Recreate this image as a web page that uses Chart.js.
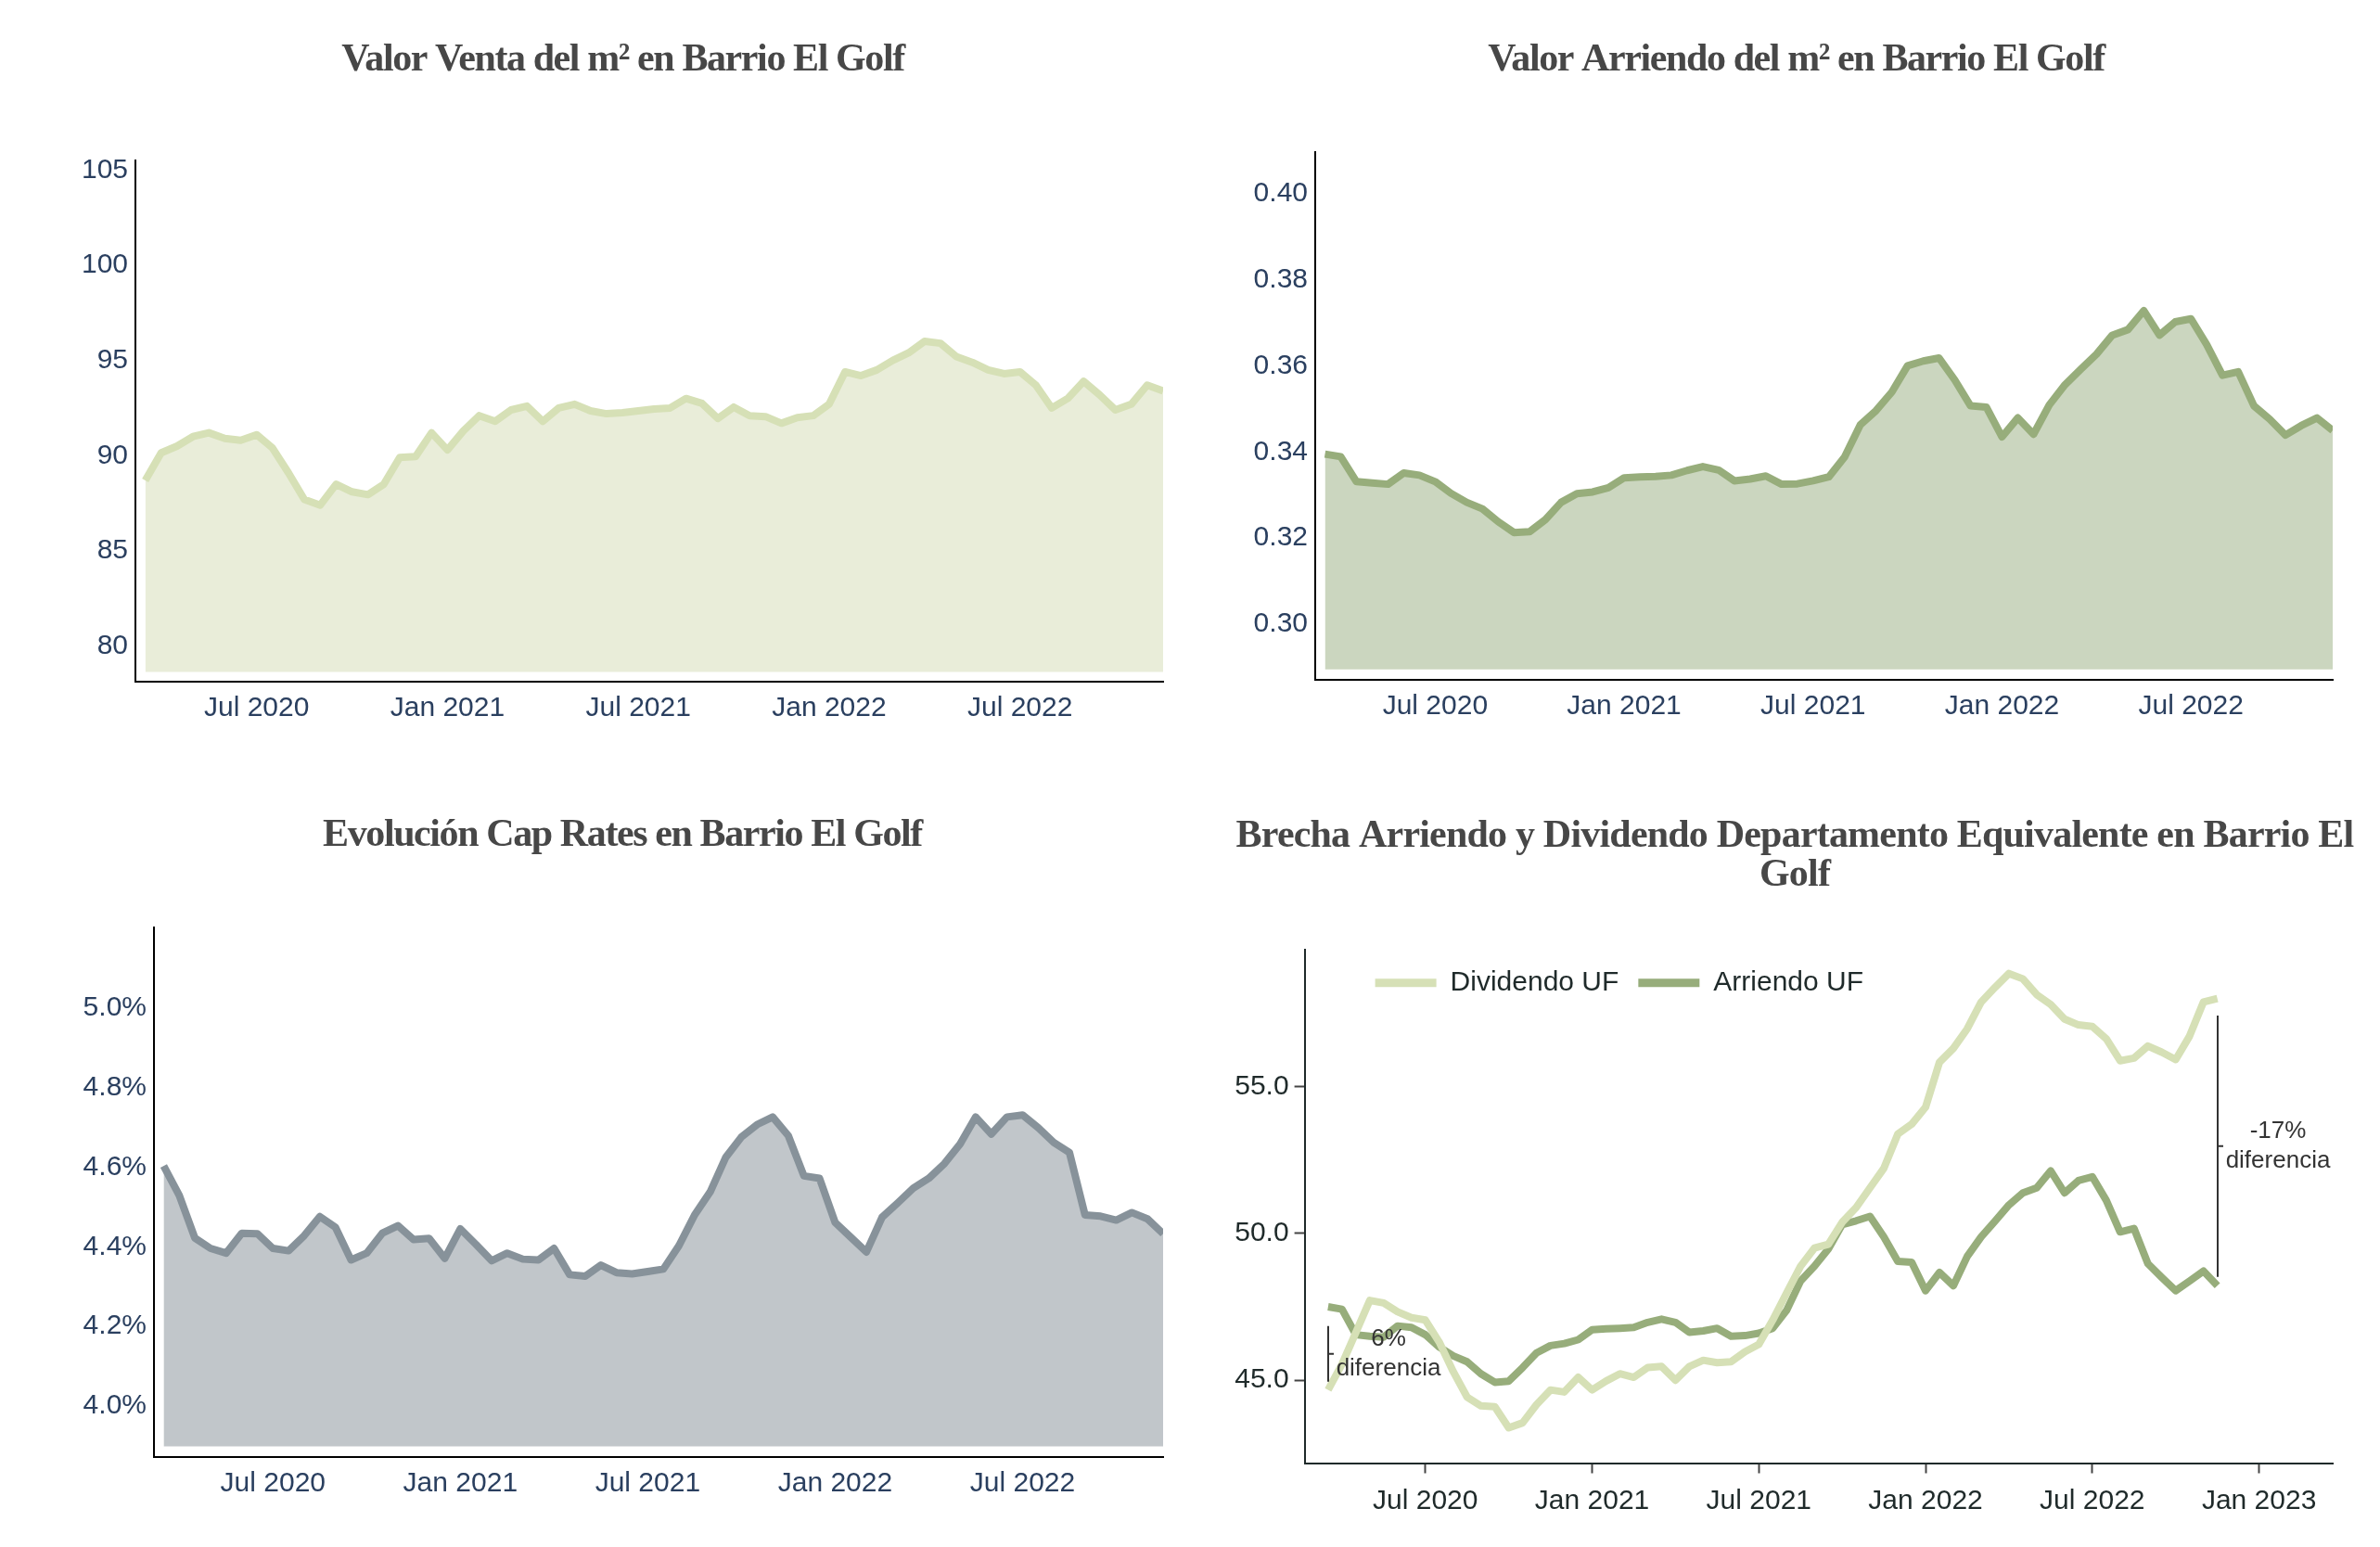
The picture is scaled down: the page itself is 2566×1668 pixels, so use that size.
<!DOCTYPE html>
<html lang="es">
<head>
<meta charset="utf-8">
<title>Barrio El Golf</title>
<script src="https://cdn.jsdelivr.net/npm/chart.js"></script>
<style>
  html, body { margin: 0; padding: 0; background: #fff; }
  #grid { position: relative; width: 2566px; height: 1668px; }
  #grid canvas { position: absolute; }
</style>
</head>
<body>
<div id="grid">
  <canvas id="venta" width="1283" height="834" style="left:0;top:0"></canvas>
  <canvas id="arriendo" width="1283" height="834" style="left:1283px;top:0"></canvas>
  <canvas id="cap" width="1283" height="834" style="left:0;top:834px"></canvas>
  <canvas id="brecha" width="1283" height="834" style="left:1283px;top:834px"></canvas>
</div>
<script>
// fechas quincenales
const fechas = [
  '2020-03-15', '2020-04-01', '2020-04-15', '2020-05-01', '2020-05-15', '2020-06-01', '2020-06-15',
  '2020-07-01', '2020-07-15', '2020-08-01', '2020-08-15', '2020-09-01', '2020-09-15', '2020-10-01',
  '2020-10-15', '2020-11-01', '2020-11-15', '2020-12-01', '2020-12-15',
  '2021-01-01', '2021-01-15', '2021-02-01', '2021-02-15', '2021-03-01', '2021-03-15', '2021-04-01',
  '2021-04-15', '2021-05-01', '2021-05-15', '2021-06-01', '2021-06-15', '2021-07-01', '2021-07-15',
  '2021-08-01', '2021-08-15', '2021-09-01', '2021-09-15', '2021-10-01', '2021-10-15', '2021-11-01',
  '2021-11-15', '2021-12-01', '2021-12-15',
  '2022-01-01', '2022-01-15', '2022-02-01', '2022-02-15', '2022-03-01', '2022-03-15', '2022-04-01',
  '2022-04-15', '2022-05-01', '2022-05-15', '2022-06-01', '2022-06-15', '2022-07-01', '2022-07-15',
  '2022-08-01', '2022-08-15', '2022-09-01', '2022-09-15', '2022-10-01', '2022-10-15', '2022-11-01',
  '2022-11-15'
];

const ventaM2 = [
  88.7, 90.15, 90.5, 91.0, 91.2, 90.9, 90.8, 91.1, 90.4, 89.1,
  87.7, 87.4, 88.5, 88.1, 87.95, 88.5, 89.9, 89.95, 91.2, 90.3,
  91.3, 92.1, 91.8, 92.4, 92.6, 91.8, 92.5, 92.7, 92.35, 92.2,
  92.25, 92.35, 92.45, 92.5, 93.0, 92.75, 91.95, 92.55, 92.1, 92.05,
  91.7, 92.0, 92.1, 92.7, 94.4, 94.2, 94.5, 95.0, 95.4, 96.0,
  95.9, 95.2, 94.9, 94.5, 94.3, 94.4, 93.7, 92.5, 93.0, 93.9,
  93.2, 92.4, 92.7, 93.7, 93.4
];

const arriendoM2 = [
  0.3395, 0.3389, 0.3331, 0.3328, 0.3325, 0.3351, 0.3346, 0.3331, 0.3304, 0.3283,
  0.3268, 0.3238, 0.3213, 0.3215, 0.3243, 0.3283, 0.3303, 0.3307, 0.3317, 0.3340,
  0.3342, 0.3343, 0.3346, 0.3357, 0.3366, 0.3358, 0.3333, 0.3337, 0.3344, 0.3325,
  0.3326, 0.3333, 0.3342, 0.3388, 0.3463, 0.3496, 0.3539, 0.3600, 0.3611, 0.3618,
  0.3567, 0.3507, 0.3504, 0.3435, 0.3479, 0.3441, 0.3509, 0.3556, 0.3592, 0.3627,
  0.3671, 0.3684, 0.3728, 0.3671, 0.3702, 0.3709, 0.3649, 0.3578, 0.3586, 0.3507,
  0.3476, 0.3439, 0.3461, 0.3479, 0.3450
];

const capRate = [
  4.603, 4.529, 4.422, 4.396, 4.384, 4.434, 4.433, 4.396, 4.390, 4.428,
  4.476, 4.449, 4.367, 4.384, 4.434, 4.453, 4.418, 4.421, 4.371, 4.445,
  4.406, 4.365, 4.384, 4.369, 4.367, 4.396, 4.330, 4.326, 4.354, 4.335,
  4.332, 4.338, 4.344, 4.403, 4.480, 4.538, 4.625, 4.676, 4.707, 4.726,
  4.679, 4.578, 4.572, 4.461, 4.424, 4.387, 4.474, 4.510, 4.547, 4.572,
  4.609, 4.658, 4.726, 4.683, 4.726, 4.731, 4.699, 4.662, 4.637, 4.480,
  4.477, 4.467, 4.486, 4.470, 4.433
];

const dividendoUF = [
  44.67, 45.55, 46.63, 47.72, 47.63, 47.33, 47.13, 47.05, 46.3, 45.3,
  44.43, 44.13, 44.1, 43.38, 43.55, 44.17, 44.67, 44.6, 45.1, 44.67,
  44.97, 45.22, 45.1, 45.43, 45.47, 45.0, 45.47, 45.68, 45.6, 45.63,
  45.97, 46.22, 47.05, 47.97, 48.88, 49.5, 49.63, 50.38, 50.88, 51.55,
  52.22, 53.38, 53.72, 54.3, 55.83, 56.3, 56.97, 57.88, 58.38, 58.85,
  58.67, 58.13, 57.8, 57.3, 57.1, 57.05, 56.63, 55.88, 55.97, 56.38,
  56.17, 55.92, 56.72, 57.88, 58.0
];

const arriendoUF = [
  47.5, 47.42, 46.55, 46.5, 46.47, 46.85, 46.8, 46.55, 46.13, 45.83,
  45.63, 45.22, 44.93, 44.97, 45.43, 45.93, 46.18, 46.25, 46.38, 46.72,
  46.75, 46.77, 46.8, 46.97, 47.08, 46.97, 46.63, 46.68, 46.77, 46.5,
  46.52, 46.6, 46.77, 47.38, 48.38, 48.88, 49.47, 50.3, 50.43, 50.58,
  49.88, 49.05, 49.02, 48.05, 48.67, 48.22, 49.22, 49.88, 50.42, 50.97,
  51.38, 51.55, 52.13, 51.38, 51.8, 51.93, 51.13, 50.05, 50.17, 48.97,
  48.5, 48.05, 48.38, 48.72, 48.22
];

const xTicks = [6, 12, 18, 24, 30, 36];   // meses desde ene 2020
const xTickLabels = ['Jul 2020', 'Jan 2021', 'Jul 2021', 'Jan 2022', 'Jul 2022', 'Jan 2023'];
const yTicksVenta = [80, 85, 90, 95, 100, 105];
const yTicksArriendo = [0.30, 0.32, 0.34, 0.36, 0.38, 0.40];
const yTicksCap = [4.0, 4.2, 4.4, 4.6, 4.8, 5.0];
const yTicksBrecha = [45, 50, 55];

const tituloVenta = 'Valor Venta del m² en Barrio El Golf';
const tituloArriendo = 'Valor Arriendo del m² en Barrio El Golf';
const tituloCap = 'Evolución Cap Rates en Barrio El Golf';
const tituloBrecha = ['Brecha Arriendo y Dividendo Departamento Equivalente en Barrio El', 'Golf'];

// corchetes de diferencia entre dividendo y arriendo
const brechas = [
  { fecha: '2020-03-15', desde: 44.95, hasta: 46.85, texto: ['6%', 'diferencia'] },
  { fecha: '2022-11-15', desde: 48.52, hasta: 57.42, texto: ['-17%', 'diferencia'] }
];

const SANS = "'Liberation Sans', Arial, Helvetica, sans-serif";
const SERIF = "'Liberation Serif', 'Times New Roman', serif";

function mes(f) {
  const [a, m, d] = f.split('-').map(Number);
  return (a - 2020) * 12 + (m - 1) + (d - 1) / 28;
}
const serie = vals => vals.map((v, i) => ({ x: mes(fechas[i]), y: v }));

// titulo apretado y corrido, leyenda horizontal dentro del area
const ajustes = {
  id: 'ajustes',
  beforeLayout(chart, args, opts) {
    if (opts.leyendaDx !== undefined && chart.legend) {
      chart.legend.isHorizontal = () => true;
    }
  },
  afterLayout(chart, args, opts) {
    const tb = chart.titleBlock;
    if (tb && opts.tituloDx) {
      tb.left += opts.tituloDx;
      tb.right += opts.tituloDx;
    }
    const lg = chart.legend;
    if (lg && opts.leyendaDx !== undefined) {
      const a = chart.chartArea;
      lg.left = a.left + opts.leyendaDx;
      lg.right = lg.left + a.width;
      lg.top = a.top;
    }
  },
  beforeDraw(chart, args, opts) {
    const tb = chart.titleBlock;
    if (!tb || tb._apretado) return;
    const orig = tb.draw.bind(tb);
    tb.draw = function (area) {
      chart.ctx.save();
      chart.ctx.letterSpacing = opts.spacing || '0px';
      orig(area);
      chart.ctx.restore();
    };
    tb._apretado = true;
  }
};

const corchetes = {
  id: 'corchetes',
  afterDatasetsDraw(chart, args, opts) {
    if (!opts.items) return;
    const { ctx, scales: { x, y } } = chart;
    ctx.save();
    ctx.strokeStyle = '#333';
    ctx.fillStyle = '#333';
    ctx.lineWidth = 2;
    ctx.font = '26px ' + SANS;
    ctx.textAlign = 'center';
    ctx.textBaseline = 'middle';
    opts.items.forEach(b => {
      const px = Math.round(x.getPixelForValue(mes(b.fecha)));
      const y0 = y.getPixelForValue(b.desde);
      const y1 = y.getPixelForValue(b.hasta);
      const ym = (y0 + y1) / 2;
      ctx.beginPath();
      ctx.moveTo(px, y0);
      ctx.lineTo(px, y1);
      ctx.moveTo(px, ym);
      ctx.lineTo(px + 6, ym);
      ctx.stroke();
      b.texto.forEach((t, i) => {
        ctx.fillText(t, px + 65, ym + (i - (b.texto.length - 1) / 2) * 32);
      });
    });
    ctx.restore();
  }
};

function ejeX(min, max, nTicks, alto, oscuro) {
  const ticks = xTicks.slice(0, nTicks);
  return {
    type: 'linear', min, max,
    afterBuildTicks: s => { s.ticks = ticks.map(v => ({ value: v })); },
    afterFit: s => { s.height = alto; },
    ticks: {
      autoSkip: false, maxRotation: 0, minRotation: 0,
      padding: oscuro ? 12 : 11,
      color: oscuro ? '#1f2a2a' : '#2a3f5f',
      font: { family: SANS, size: 30 },
      callback: v => xTickLabels[xTicks.indexOf(v)]
    },
    grid: oscuro
      ? { display: true, drawOnChartArea: false, drawTicks: true, tickLength: 11, tickWidth: 2, tickColor: '#444' }
      : { display: false, drawTicks: false },
    border: { display: true, color: oscuro ? '#1f2a2a' : '#000', width: 2 }
  };
}

function ejeY(min, max, ticks, fmt, ancho, oscuro) {
  return {
    type: 'linear', min, max,
    afterBuildTicks: s => { s.ticks = ticks.map(v => ({ value: v })); },
    afterFit: s => { s.width = ancho; },
    ticks: {
      padding: oscuro ? 6 : 8,
      color: oscuro ? '#1f2a2a' : '#2a3f5f',
      font: { family: SANS, size: 30 },
      callback: fmt
    },
    grid: oscuro
      ? { display: true, drawOnChartArea: false, drawTicks: true, tickLength: 11, tickWidth: 2, tickColor: '#444' }
      : { display: false, drawTicks: false },
    border: { display: true, color: oscuro ? '#1f2a2a' : '#000', width: 2 }
  };
}

function titulo(text, top, bottom) {
  return {
    display: true, text, color: '#474747',
    font: { family: SERIF, size: 42, weight: 'bold', lineHeight: 1.0 },
    padding: { top, bottom }
  };
}

function linea(data, color, relleno, base) {
  return {
    data, borderColor: color, backgroundColor: relleno,
    borderWidth: 8, pointRadius: 0, tension: 0, borderJoinStyle: 'round',
    fill: base === undefined ? false : { value: base }
  };
}

Chart.defaults.font.family = SANS;

new Chart(document.getElementById('venta'), {
  type: 'line',
  data: { datasets: [linea(serie(ventaM2), '#d6e0b6', '#e9edd9', 78.64)] },
  options: {
    responsive: false, animation: false,
    layout: { padding: { left: 0, right: 29, top: 0, bottom: 0 }, autoPadding: false },
    scales: {
      x: ejeX(2.19, 34.5, 5, 99, false),
      y: ejeY(78.13, 105.5, yTicksVenta, v => String(v), 146, false)
    },
    plugins: {
      legend: { display: false }, tooltip: { enabled: false },
      title: titulo(tituloVenta, 44, 87),
      ajustes: { spacing: '-1.4px', tituloDx: 44.5 }
    }
  },
  plugins: [ajustes]
});

new Chart(document.getElementById('arriendo'), {
  type: 'line',
  data: { datasets: [linea(serie(arriendoM2), '#97ad7b', '#cbd6bf', 0.2895)] },
  options: {
    responsive: false, animation: false,
    layout: { padding: { left: 0, right: 51, top: 0, bottom: 0 }, autoPadding: false },
    scales: {
      x: ejeX(2.19, 34.5, 5, 101, false),
      y: ejeY(0.2871, 0.4096, yTicksArriendo, v => v.toFixed(2), 135, false)
    },
    plugins: {
      legend: { display: false }, tooltip: { enabled: false },
      title: titulo(tituloArriendo, 44, 78),
      ajustes: { spacing: '-1.4px', tituloDx: 37.5 }
    }
  },
  plugins: [ajustes]
});

new Chart(document.getElementById('cap'), {
  type: 'line',
  data: { datasets: [linea(serie(capRate), '#87929a', '#c1c6ca', 3.899)] },
  options: {
    responsive: false, animation: false,
    layout: { padding: { left: 0, right: 29, top: 0, bottom: 0 }, autoPadding: false },
    scales: {
      x: ejeX(2.19, 34.5, 5, 97, false),
      y: ejeY(3.872, 5.202, yTicksCap, v => v.toFixed(1) + '%', 166, false)
    },
    plugins: {
      legend: { display: false }, tooltip: { enabled: false },
      title: titulo(tituloCap, 46.5, 77.5),
      ajustes: { spacing: '-1.4px', tituloDx: 44 }
    }
  },
  plugins: [ajustes]
});

new Chart(document.getElementById('brecha'), {
  type: 'line',
  data: {
    datasets: [
      { ...linea(serie(dividendoUF), '#d6e0b6', '#d6e0b6'), label: 'Dividendo UF' },
      { ...linea(serie(arriendoUF), '#97ad7b', '#97ad7b'), label: 'Arriendo UF' }
    ]
  },
  options: {
    responsive: false, animation: false,
    layout: { padding: { left: 0, right: 51, top: 0, bottom: 0 }, autoPadding: false },
    scales: {
      x: ejeX(1.656, 38.65, 6, 90.5, true),
      y: ejeY(42.18, 59.67, yTicksBrecha, v => v.toFixed(1), 123.6, true)
    },
    plugins: {
      tooltip: { enabled: false },
      title: titulo(tituloBrecha, 47, 58.7),
      legend: {
        display: true, position: 'chartArea', align: 'start',
        labels: {
          boxWidth: 66, boxHeight: 9, padding: 21, color: '#1f2a2a',
          font: { family: SANS, size: 30 },
          generateLabels: chart => Chart.defaults.plugins.legend.labels.generateLabels(chart)
            .map(l => ({ ...l, lineWidth: 0 }))
        }
      },
      ajustes: { spacing: '-0.8px', tituloDx: 36, leyendaDx: 55 },
      corchetes: { items: brechas }
    }
  },
  plugins: [ajustes, corchetes]
});
</script>
</body>
</html>
